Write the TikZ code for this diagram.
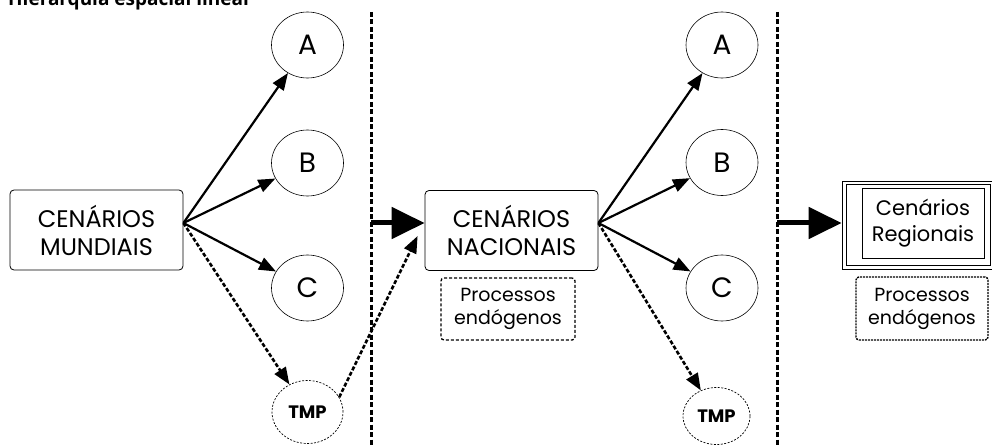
\documentclass[tikz,border=0pt]{standalone}
\usepackage{fontspec}
\setmainfont{Poppins}
\newfontfamily\titlefont{Open Sans}
\usetikzlibrary{arrows.meta,shapes.geometric,calc}
\begin{document}
\begin{tikzpicture}[x=1pt,y=-1pt,
  box/.style={draw,rounded corners=4pt,line width=0.8pt,minimum width=173pt,minimum height=80pt,inner sep=0pt,align=center,font=\fontsize{24}{28}\selectfont},
  ell/.style={draw,ellipse,line width=0.6pt,minimum width=72pt,minimum height=66pt,inner sep=0pt,font=\fontsize{28}{30}\selectfont},
  tmpell/.style={draw,ellipse,dash pattern=on 2pt off 1.5pt,line width=0.7pt,inner sep=0pt,font=\fontsize{18}{20}\selectfont\bfseries},
  proc/.style={draw,rounded corners=3pt,dash pattern=on 3pt off 2pt,line width=1.3pt,minimum width=134pt,minimum height=62pt,inner sep=0pt,align=center,font=\fontsize{19}{23}\selectfont},
  arr/.style={line width=2.2pt,-{Triangle[length=17pt,width=13pt]}},
  darr/.style={line width=2.6pt,dash pattern=on 4pt off 2pt,-{Triangle[length=17pt,width=13pt]}},
  big/.style={line width=5pt,-{Triangle[length=33pt,width=31pt]}},
  sepline/.style={line width=3pt,dash pattern=on 5pt off 2.5pt},
]
\useasboundingbox (0,0) rectangle (992,446);
\fill[white] (0,0) rectangle (992,446);

\node[anchor=base west,font=\titlefont\bfseries\fontsize{19}{21}\selectfont,inner sep=0pt] (title) at (8,6) {Hierarquia espacial linear};

% separators
\coordinate (s1t) at (371,12); \coordinate (s1b) at (371,446);
\coordinate (s2t) at (777,12); \coordinate (s2b) at (777,446);
\draw[sepline] (s1t) -- (s1b);
\draw[sepline] (s2t) -- (s2b);

% boxes
\node[box] (mun) at (96.5,230) {CENÁRIOS\\MUNDIAIS};
\node[box] (nac) at (511.5,230.5) {CENÁRIOS\\NACIONAIS};
\node[proc] (p1) at (508,309) {Processos\\endógenos};
\node[proc,minimum width=132pt,minimum height=63pt,dash pattern=on 2pt off 1pt,line width=1.4pt] (p2) at (922,308.5) {Processos\\endógenos};

% regional triple box
\node[draw,line width=0.8pt,minimum width=152pt,minimum height=88pt,inner sep=0pt] (rego) at (918,225) {};
\node[draw,line width=0.8pt,minimum width=144pt,minimum height=81pt,inner sep=0pt] (regm) at (918,224.5) {};
\node[draw,line width=0.8pt,minimum width=122pt,minimum height=70pt,inner sep=0pt,align=center,font=\fontsize{21}{26}\selectfont] (reg) at (923,223) {Cenários\\Regionais};

% ellipses left
\node[ell] (la) at (307.5,45) {A};
\node[ell] (lb) at (307.5,163) {B};
\node[ell] (lc) at (307.5,288) {C};
\node[tmpell,minimum width=71pt,minimum height=63pt] (lt) at (307.5,412) {TMP};
% ellipses right
\node[ell] (ra) at (722,45) {A};
\node[ell] (rb) at (722,162.5) {B};
\node[ell] (rc) at (722,288) {C};
\node[tmpell,minimum width=67pt,minimum height=57pt] (rt) at (716.5,416) {TMP};

% sources
\coordinate (ms) at ($(mun.east)+(0,-7)$);
\coordinate (ns) at ($(nac.east)+(0,-7.5)$);

\draw[arr] (ms) -- (la);
\draw[arr] (ms) -- (lb);
\draw[arr] (ms) -- (lc);
\draw[darr] (ms) -- (lt);
\draw[darr] (lt.25) -- ($(nac.west)+(-7,5.5)$);

\draw[arr] (ns) -- (ra);
\draw[arr] (ns) -- (rb);
\draw[arr] (ns) -- (rc);
\draw[darr] (ns) -- (rt);

% big arrows
\coordinate (b1) at (371,223);
\coordinate (b2) at (777,223);
\draw[big] (b1) -- (b1 -| nac.west);
\draw[big] (b2) -- (b2 -| rego.west);
\end{tikzpicture}
\end{document}
